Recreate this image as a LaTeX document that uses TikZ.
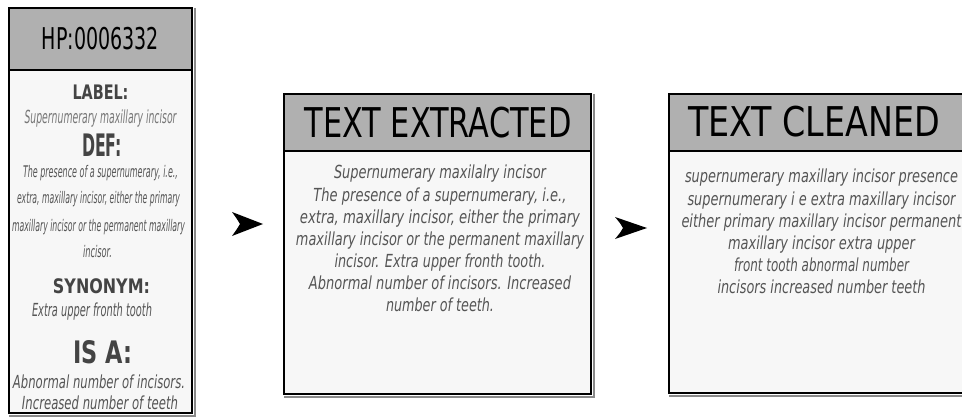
\documentclass[tikz,border=0pt]{standalone}
\usepackage{fontspec}
\setmainfont{DejaVu Sans}
\usepackage{graphicx}
\usetikzlibrary{calc}
\definecolor{hdrgray}{HTML}{B0B0B0}
\definecolor{bodygray}{HTML}{F7F7F7}
\definecolor{boldtxt}{HTML}{444444}
\definecolor{ittxt}{HTML}{555555}
\definecolor{lighttxt}{HTML}{777777}
\definecolor{shadowgray}{HTML}{8A8A8A}
\newcommand\fw[2]{\resizebox{#1pt}{\height}{#2}}
\newcommand\tline[6]{\node[#1] (#2) at (#3,#4) {\fw{#5}{#6}};}
\begin{document}
\begin{tikzpicture}[x=1pt,y=-1pt,
  boxline/.style={draw=black, line width=1.8pt, inner sep=0pt},
  hbox/.style={boxline, fill=hdrgray},
  bbox/.style={boxline, fill=bodygray},
  shadow/.style={draw=shadowgray, line width=1.2pt},
  txt/.style={anchor=base, inner sep=0pt, outer sep=0pt},
  hd/.style={txt, text=black, font=\fontsize{41}{41}\selectfont},
  hp/.style={txt, text=black, font=\fontsize{30}{30}\selectfont},
  bld/.style={txt, text=boldtxt, font=\bfseries\fontsize{20}{20}\selectfont},
  bldbig/.style={txt, text=boldtxt, font=\bfseries\fontsize{31}{31}\selectfont},
  itl/.style={txt, text=lighttxt, font=\itshape\fontsize{18}{18}\selectfont},
  itd/.style={txt, text=ittxt, font=\itshape\fontsize{16}{16}\selectfont},
  itm/.style={txt, text=ittxt, font=\itshape\fontsize{18}{18}\selectfont},
  arrowfill/.style={fill=black}]
\clip (0,0) rectangle (962,417);
\fill[white] (0,0) rectangle (962,417);

% left box
\node[bbox, minimum width=183pt, minimum height=343pt] (lbody) at (100.5,241.5) {};
\node[hbox, minimum width=183pt, minimum height=62pt] (lhead) at (100.5,39) {};
\draw[shadow] ($(lhead.north east)+(2,1)$) -- ($(lbody.south east)+(2,2)$) -- ($(lbody.south west)+(1,2)$);
\tline{hp}{hpid}{100.5}{50}{117}{HP:0006332}
\tline{bld}{lab}{100.5}{100}{56}{LABEL:}
\tline{itl}{labt}{100.5}{124}{152}{Supernumerary maxillary incisor}
\tline{bldbig}{def}{102}{157}{40}{DEF:}
\tline{itd}{defa}{100.5}{178}{155}{The presence of a supernumerary, i.e.,}
\tline{itd}{defb}{98.5}{204}{163}{extra, maxillary incisor, either the primary}
\tline{itd}{defc}{98.5}{231}{173}{maxillary incisor or the permanent maxillary}
\tline{itd}{defd}{97.5}{258}{29}{incisor.}
\tline{bld}{syn}{101.5}{293}{97}{SYNONYM:}
\tline{itm}{synt}{92}{316}{120}{Extra upper fronth tooth}
\tline{bldbig}{isa}{102.5}{363}{59}{IS A:}
\tline{itm}{isaa}{99}{388}{172}{Abnormal number of incisors.}
\tline{itm}{isab}{100}{409}{156}{Increased number of teeth}

% middle box
\node[bbox, minimum width=307pt, minimum height=243pt] (mbody) at (437.5,272.5) {};
\node[hbox, minimum width=307pt, minimum height=57pt] (mhead) at (437.5,122.5) {};
\draw[shadow] ($(mhead.north east)+(2,1)$) -- ($(mbody.south east)+(2,2)$) -- ($(mbody.south west)+(1,2)$);
\tline{hd}{mt}{438}{138}{267}{TEXT EXTRACTED}
\tline{itm}{m1}{440}{179}{212}{Supernumerary maxilalry incisor}
\tline{itm}{m2}{440}{201}{253}{The presence of a supernumerary, i.e.,}
\tline{itm}{m3}{440}{223}{280}{extra, maxillary incisor, either the primary}
\tline{itm}{m4}{440}{245}{288}{maxillary incisor or the permanent maxillary}
\tline{itm}{m5}{440}{267}{211}{incisor. Extra upper fronth tooth.}
\tline{itm}{m6}{440}{289}{262}{Abnormal number of incisors. Increased}
\tline{itm}{m7}{440}{311}{108}{number of teeth.}

% right box
\node[bbox, minimum width=305pt, minimum height=242pt] (rbody) at (821.5,272) {};
\node[hbox, minimum width=305pt, minimum height=57pt] (rhead) at (821.5,122.5) {};
\draw[shadow] ($(rbody.south west)+(1,2)$) -- ($(rbody.south east)+(2,2)$);
\tline{hd}{rt}{814}{137}{252}{TEXT CLEANED}
\tline{itm}{r1}{821.5}{183}{273}{supernumerary maxillary incisor presence}
\tline{itm}{r2}{821.5}{205}{268}{supernumerary i e extra maxillary incisor}
\tline{itm}{r3}{821.5}{227}{280}{either primary maxillary incisor permanent}
\tline{itm}{r4}{821.5}{249}{187}{maxillary incisor extra upper}
\tline{itm}{r5}{821.5}{271}{175}{front tooth abnormal number}
\tline{itm}{r6}{821.5}{293}{208}{incisors increased number teeth}

% arrowheads
\coordinate (a1s) at (232,224);
\coordinate (a1e) at (263,224);
\coordinate (a2s) at (615,228);
\coordinate (a2e) at (647,228);
\fill[arrowfill] (a1e) -- ($(a1s)+(0,-12)$) .. controls ($(a1s)+(5,-5)$) .. ($(a1s)+(8,0)$) .. controls ($(a1s)+(5,5)$) .. ($(a1s)+(0,12)$) -- cycle;
\fill[arrowfill] (a2e) -- ($(a2s)+(0,-11)$) .. controls ($(a2s)+(5,-5)$) .. ($(a2s)+(8,0)$) .. controls ($(a2s)+(5,5)$) .. ($(a2s)+(0,11)$) -- cycle;
\end{tikzpicture}
\end{document}
